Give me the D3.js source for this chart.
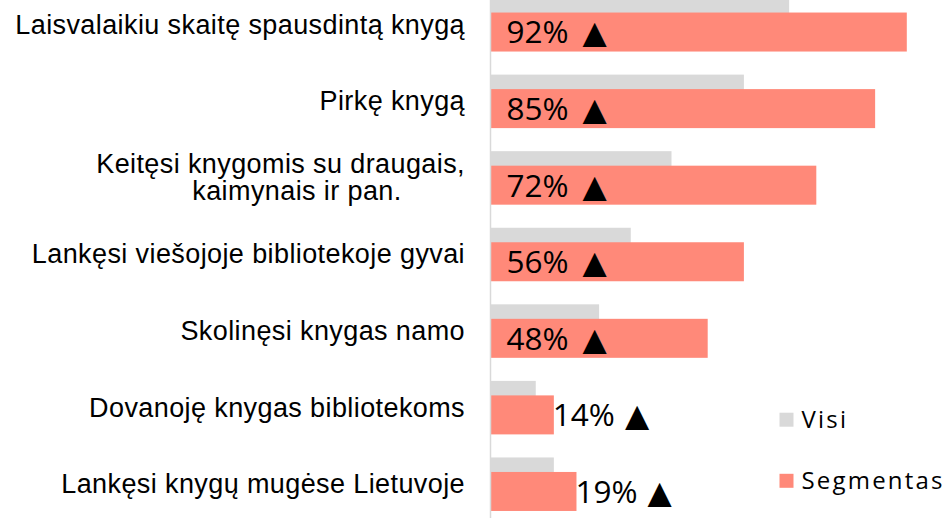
<!DOCTYPE html>
<html>
<head>
<meta charset="utf-8">
<script src="https://cdn.jsdelivr.net/npm/d3@7"></script>
<style>
  body { margin: 0; background: #fff; }
  svg { display: block; }
</style>
</head>
<body>
<div id="chart"></div>
<script>
// --- data --- //
const categories = [
  "Laisvalaikiu skaitę spausdintą knygą",
  "Pirkę knygą",
  "Keitęsi knygomis su draugais,\nkaimynais ir pan.",
  "Lankęsi viešojoje bibliotekoje gyvai",
  "Skolinęsi knygas namo",
  "Dovanoję knygas bibliotekoms",
  "Lankęsi knygų mugėse Lietuvoje"
];
const visi = [66, 56, 40, 31, 24, 10, 14];
const segmentas = [92, 85, 72, 56, 48, 14, 19];
const seriesNames = ["Visi", "Segmentas"];

//--- formatting ---//
const width = 949;
const height = 518;
const grayColor = "#d9d9d9";
const segColor = "#ff8979";
const barH = 39;
const barOffset = 14.5; // salmon bar sits lower than grey one
const labelFont = "'Liberation Sans', Arial, sans-serif";
const valueFont = "'Open Sans', 'DejaVu Sans', sans-serif";

const svg = d3
  .select("#chart")
  .append("svg")
  .attr("width", width)
  .attr("height", height);

const x = d3.scaleLinear().domain([0, 100]).range([490.5, 943]);
const y = d3.scaleBand().domain(categories).range([-13.5, 522.5]).padding(0);
const mid = (c) => y(c) + y.bandwidth() / 2;

const rows = categories.map((c, i) => ({ cat: c, visi: visi[i], seg: segmentas[i] }));

// grey bars (Visi)
svg
  .selectAll(".bar-visi")
  .data(rows)
  .enter()
  .append("rect")
  .attr("class", "bar-visi")
  .attr("x", x(0))
  .attr("y", (d) => mid(d.cat) - barOffset / 2 - barH / 2)
  .attr("width", (d) => x(d.visi) - x(0))
  .attr("height", barH)
  .attr("fill", grayColor);

// salmon bars (Segmentas)
svg
  .selectAll(".bar-seg")
  .data(rows)
  .enter()
  .append("rect")
  .attr("class", "bar-seg")
  .attr("x", x(0))
  .attr("y", (d) => mid(d.cat) + barOffset / 2 - barH / 2)
  .attr("width", (d) => x(d.seg) - x(0))
  .attr("height", barH)
  .attr("fill", segColor);

// axis line
svg
  .append("line")
  .attr("x1", x(0))
  .attr("x2", x(0))
  .attr("y1", 0)
  .attr("y2", height)
  .attr("stroke", grayColor)
  .attr("stroke-width", 1.5);

// category labels
const lab = svg
  .selectAll(".cat-label")
  .data(rows)
  .enter()
  .append("text")
  .attr("class", "cat-label")
  .style("font-family", labelFont)
  .style("font-size", "27px")
  .style("letter-spacing", "0.4px")
  .attr("fill", "#000");

lab.each(function (d) {
  const lines = d.cat.split("\n");
  const lh = 27.3;
  const t = d3.select(this);
  lines.forEach((ln, j) => {
    t.append("tspan")
      .attr("x", j === 0 ? 465 : 297)
      .attr("text-anchor", j === 0 ? "end" : "middle")
      .attr("y", mid(d.cat) - ((lines.length - 1) * lh) / 2 + j * lh)
      .attr("dy", "0.33em")
      .text(ln);
  });
});

// value labels
const val = svg
  .selectAll(".val-label")
  .data(rows)
  .enter()
  .append("text")
  .attr("class", "val-label")
  .attr("x", (d) => (x(d.seg) - x(0) > 150 ? x(0) + 16 : x(d.seg) - 1))
  .attr("y", (d) => mid(d.cat) + barOffset / 2)
  .attr("dy", "0.36em")
  .style("font-family", valueFont)
  .style("font-size", "31.5px")
  .attr("fill", "#000");

val.append("tspan").text((d) => d.seg + "%");
val.append("tspan").attr("dx", (d) => (x(d.seg) - x(0) > 150 ? 14 : 10)).text("\u25B2");

// legend
const legend = svg
  .selectAll(".legend")
  .data(seriesNames)
  .enter()
  .append("g")
  .attr("class", "legend")
  .attr("transform", (d, i) => "translate(779.5," + (419.7 + i * 61.1) + ")");

legend
  .append("rect")
  .attr("x", 0)
  .attr("y", -7)
  .attr("width", 14)
  .attr("height", 14)
  .attr("fill", (d, i) => (i === 0 ? grayColor : segColor));

legend
  .append("text")
  .attr("x", 22)
  .attr("y", 0)
  .attr("dy", "0.36em")
  .style("font-family", valueFont)
  .style("font-size", "24px")
  .style("letter-spacing", "2.2px")
  .attr("fill", "#000")
  .text((d) => d);
</script>
</body>
</html>
